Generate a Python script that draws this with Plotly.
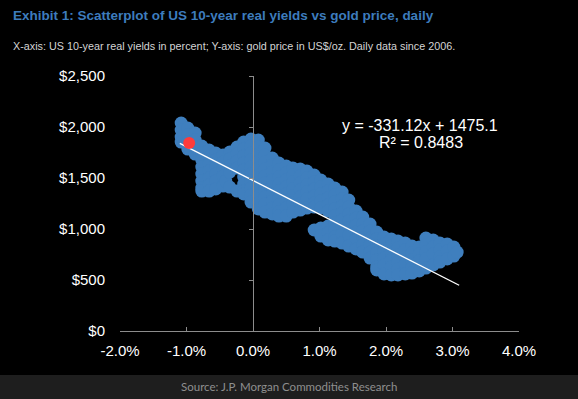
import plotly.graph_objects as go

# ---------------- data ----------------
real_yield = (
    [-1.08]*4 + [-0.98]*4 + [-0.87]*4 + [-0.77]*8 + [-0.66]*7 + [-0.56]*6 + [-0.45]*5 +
    [-0.41]*1 +
    [-0.35]*5 + [-0.24]*5 + [-0.14]*9 + [-0.03]*10 + [0.08]*11 + [0.18]*10 + [0.29]*9 +
    [0.39]*9 + [0.50]*8 + [0.60]*7 + [0.71]*7 + [0.81]*6 + [0.92]*7 + [1.02]*7 +
    [1.13]*8 + [1.23]*9 + [1.34]*8 + [1.44]*7 + [1.55]*6 + [1.65]*6 + [1.76]*6 +
    [1.86]*7 + [1.97]*6 + [2.08]*6 + [2.18]*6 + [2.29]*5 + [2.39]*5 + [2.50]*4 +
    [2.60]*5 + [2.71]*4 + [2.81]*4 + [2.92]*3 + [3.02]*2 + [3.07]*1
)
gold_price = [
    2038, 1970, 1901, 1852,
    1989, 1921, 1852, 1784,
    1940, 1872, 1803, 1735,
    1813, 1744, 1676, 1607, 1539, 1470, 1401, 1372,
    1774, 1705, 1637, 1568, 1499, 1431, 1372,
    1744, 1676, 1607, 1539, 1470, 1392,
    1725, 1656, 1588, 1519, 1421,
    1470,
    1754, 1686, 1617, 1558, 1411,
    1803, 1735, 1666, 1597, 1372,
    1852, 1784, 1715, 1646, 1578, 1509, 1441, 1372, 1343,
    1882, 1813, 1744, 1676, 1607, 1539, 1470, 1401, 1333, 1264,
    1872, 1803, 1735, 1666, 1597, 1529, 1460, 1391, 1323, 1254, 1196,
    1793, 1725, 1656, 1588, 1519, 1450, 1382, 1313, 1245, 1166,
    1695, 1627, 1558, 1480, 1411, 1343, 1274, 1205, 1147,
    1646, 1578, 1509, 1441, 1372, 1303, 1235, 1166, 1127,
    1617, 1548, 1480, 1411, 1343, 1274, 1205, 1127,
    1597, 1529, 1460, 1391, 1323, 1254, 1166,
    1588, 1519, 1450, 1382, 1313, 1245, 1186,
    1568, 1499, 1431, 1362, 1294, 1205,
    1529, 1460, 1392, 1323, 1254, 1215, 990,
    1480, 1411, 1343, 1274, 1205, 1009, 931,
    1441, 1372, 1303, 1235, 1176, 1029, 960, 892,
    1401, 1333, 1264, 1196, 1127, 1058, 990, 921, 882,
    1362, 1294, 1225, 1156, 1088, 1019, 951, 862,
    1284, 1215, 1147, 1078, 1009, 941, 833,
    1176, 1107, 1039, 970, 902, 804,
    1117, 1049, 980, 911, 843, 774,
    1049, 980, 911, 843, 774, 715,
    970, 902, 833, 764, 696, 627, 598,
    921, 853, 784, 715, 647, 559,
    902, 833, 764, 696, 627, 549,
    882, 813, 745, 676, 608, 549,
    862, 794, 725, 657, 559,
    833, 764, 696, 627, 568,
    823, 755, 686, 588,
    911, 843, 774, 706, 617,
    892, 823, 755, 647,
    862, 794, 725, 676,
    853, 784, 706,
    823, 735,
    774,
]

latest_yield = [-0.96]
latest_price = [1843]

trend_slope = -331.12
trend_intercept = 1475.1
trend_x = [-1.1, 3.1]
trend_y = [trend_slope * v + trend_intercept for v in trend_x]

x_ticks = [-2, -1, 0, 1, 2, 3, 4]
y_ticks = [0, 500, 1000, 1500, 2000, 2500]

title_text = "Exhibit 1: Scatterplot of US 10-year real yields vs gold price, daily"
subtitle_text = ("X-axis: US 10-year real yields in percent; Y-axis: gold price in US$/oz. "
                 "Daily data since 2006.")
source_text = "Source: J.P. Morgan Commodities Research"
equation_text = "y = -331.12x + 1475.1"
r2_text = "R² = 0.8483"

# ---------------- layout geometry ----------------
W, H = 578, 399
L, R, T, B = 120, 59, 76, 68
PW, PH = W - L - R, H - T - B


def px_x(p):
    return (p - L) / PW


def px_y(p):
    return 1 - (p - T) / PH


FONT = "Liberation Sans, Arial, sans-serif"
AXIS_GREY = "#8c8c8c"

fig = go.Figure()

fig.add_trace(go.Scatter(
    x=real_yield, y=gold_price, mode="markers",
    marker=dict(size=13, color="#3f7fbe", line=dict(width=0)),
    hoverinfo="skip", showlegend=False,
))
fig.add_trace(go.Scatter(
    x=trend_x, y=trend_y, mode="lines",
    line=dict(color="white", width=1.3),
    hoverinfo="skip", showlegend=False,
))
fig.add_trace(go.Scatter(
    x=latest_yield, y=latest_price, mode="markers",
    marker=dict(size=12, color="#ff3b3b", line=dict(width=0)),
    hoverinfo="skip", showlegend=False,
))
# dummy trace carrying the axis that crosses at x = 0
fig.add_trace(go.Scatter(
    x=[None], y=[None], yaxis="y2", mode="markers",
    hoverinfo="skip", showlegend=False,
))

fig.update_layout(
    width=W, height=H,
    margin=dict(l=L, r=R, t=T, b=B, pad=0),
    paper_bgcolor="#1e1e1e",
    plot_bgcolor="rgba(0,0,0,0)",
    font=dict(family=FONT, color="white"),
    xaxis=dict(
        range=[-2, 4], tickvals=x_ticks, ticktext=[f"{v:.1f}%" for v in x_ticks],
        showgrid=False, zeroline=False,
        showline=True, linecolor=AXIS_GREY, linewidth=1,
        ticks="inside", ticklen=4, tickcolor=AXIS_GREY,
        tickfont=dict(size=15, color="white", family=FONT),
        ticklabelstandoff=6,
    ),
    yaxis=dict(
        range=[0, 2500], tickvals=y_ticks,
        ticktext=[f"${v:,.0f}" for v in y_ticks],
        showgrid=False, zeroline=False, showline=False, ticks="",
        tickfont=dict(size=15, color="white", family=FONT),
        ticklabelstandoff=14,
    ),
    yaxis2=dict(
        range=[0, 2500], tickvals=y_ticks, overlaying="y", anchor="free",
        position=px_x(253), side="left",
        showgrid=False, zeroline=False, showticklabels=False,
        showline=True, linecolor=AXIS_GREY, linewidth=1,
        ticks="outside", ticklen=4, tickcolor=AXIS_GREY,
    ),
    shapes=[dict(
        type="rect", xref="paper", yref="paper", layer="below",
        x0=px_x(0), x1=px_x(W), y0=px_y(375), y1=px_y(0),
        fillcolor="black", line=dict(width=0),
    )],
    annotations=[
        dict(text=f"<b>{title_text}</b>", xref="paper", yref="paper",
             x=px_x(11), y=px_y(16), xanchor="left", yanchor="middle",
             showarrow=False, font=dict(size=13.5, color="#3d7cbd", family=FONT)),
        dict(text=subtitle_text, xref="paper", yref="paper",
             x=px_x(11), y=px_y(46), xanchor="left", yanchor="middle",
             showarrow=False, font=dict(size=10.8, color="#d4d4d4", family=FONT)),
        dict(text=source_text, xref="paper", yref="paper",
             x=px_x(289), y=px_y(386), xanchor="center", yanchor="middle",
             showarrow=False, font=dict(size=11.5, color="#8f8f8f", family="Lato, Open Sans, sans-serif")),
        dict(text=equation_text, xref="paper", yref="paper",
             x=px_x(420), y=px_y(125), xanchor="center", yanchor="middle",
             showarrow=False, font=dict(size=16, color="white", family=FONT)),
        dict(text=r2_text, xref="paper", yref="paper",
             x=px_x(421), y=px_y(142), xanchor="center", yanchor="middle",
             showarrow=False, font=dict(size=16, color="white", family=FONT)),
    ],
)

fig.write_html(
    "out.html",
    config={"displayModeBar": False},
    post_script="document.body.style.margin='0';document.body.style.background='#1e1e1e';",
)
